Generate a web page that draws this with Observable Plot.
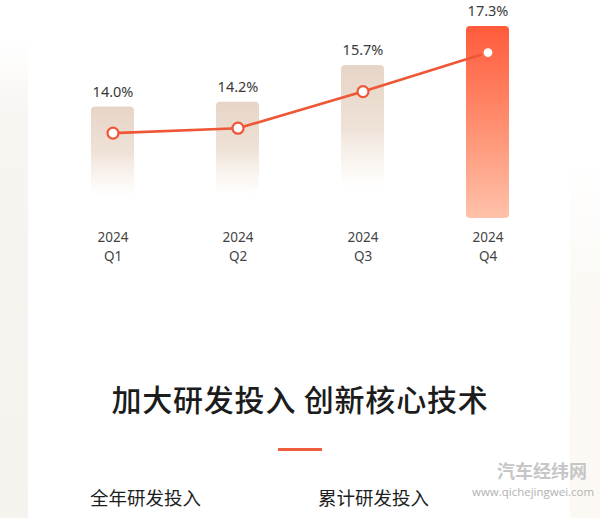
<!DOCTYPE html>
<html>
<head>
<meta charset="utf-8">
<script src="https://cdn.jsdelivr.net/npm/d3@7"></script>
<script src="https://cdn.jsdelivr.net/npm/@observablehq/plot@0.6"></script>
<style>
  html, body { margin: 0; padding: 0; background: #fff; }
  #page { position: relative; width: 600px; height: 518px; overflow: hidden; background: #fff;
    font-family: "Noto Sans CJK SC", "Noto Sans", sans-serif; }
  .strip-l { position: absolute; left: 0; top: 0; width: 28px; height: 518px;
    background: linear-gradient(to bottom, rgba(244,240,235,0) 40px, rgba(244,240,235,0.7) 120px, #f6f3ef 518px); }
  .strip-r { position: absolute; right: 0; top: 0; width: 30px; height: 518px;
    background: linear-gradient(to bottom, rgba(251,248,243,0) 160px, rgba(251,248,243,0.8) 280px, #fcf9f5 518px); }
  #chart { position: absolute; left: 0; top: 0; }
  .title { position: absolute; left: 0; width: 600px; top: 376px; text-align: center;
    font-size: 30px; font-weight: 500; color: #1c1c1c; letter-spacing: 0.8px; }
  .dash { position: absolute; left: 278px; top: 448px; width: 44px; height: 3px; background: #ef5f3e; }
  .sub { position: absolute; top: 484px; font-size: 18.5px; color: #1e1e1e; }
  .wm1 { position: absolute; left: 497px; top: 457px; font-size: 18px; font-weight: 700; color: #c6c6c6; }
  .wm2 { position: absolute; left: 472px; top: 484px; font-size: 11.5px; color: #b2b2b2; font-family: "Open Sans", sans-serif; }
</style>
</head>
<body>
<div id="page">
  <div class="strip-l"></div>
  <div class="strip-r"></div>
  <div id="chart"></div>
  <div class="title">加大研发投入 创新核心技术</div>
  <div class="dash"></div>
  <div class="sub" style="left:90px">全年研发投入</div>
  <div class="sub" style="left:318px">累计研发投入</div>
  <div class="wm1">汽车经纬网</div>
  <div class="wm2">www.qichejingwei.com</div>
</div>
<script>
const quarters = ["Q1", "Q2", "Q3", "Q4"];
const year = "2024";
const rdRatio = [14.0, 14.2, 15.7, 17.3];
const highlight = "Q4";
const yDomain = [10.5, 18];

const data = quarters.map((q, i) => ({q, v: rdRatio[i]}));
const base = yDomain[0];

const lineColor = "#ef5636";

const plot = Plot.plot({
  width: 600,
  height: 270,
  marginTop: 35,
  marginBottom: 52,
  marginLeft: 50,
  marginRight: 50,
  style: {background: "transparent", fontFamily: "'Noto Sans', 'Noto Sans CJK SC', sans-serif", overflow: "visible"},
  x: {domain: quarters, type: "band", padding: 0},
  y: {domain: yDomain, axis: null},
  marks: [
    Plot.barY(data.filter(d => d.q !== highlight), {
      x: "q", y1: d => base, y2: "v",
      insetLeft: 41, insetRight: 41, insetTop: -26,
      rx: 4, fill: "url(#gBeige)"
    }),
    Plot.barY(data.filter(d => d.q === highlight), {
      x: "q", y1: d => base, y2: "v",
      insetLeft: 41, insetRight: 41, insetTop: -26,
      rx: 4, fill: "url(#gOrange)"
    }),
    Plot.line(data, {x: "q", y: "v", stroke: lineColor, strokeWidth: 2.6}),
    Plot.dot(data, {x: "q", y: "v", r: 5.5, fill: "white", stroke: d => d.q === highlight ? "#ff6a4a" : lineColor, strokeWidth: 2.2}),
    Plot.text(data, {x: "q", y: "v", text: d => d.v.toFixed(1) + "%", dy: -41, fontSize: 14.5, fill: "#3a3a3a"}),
    Plot.axisX({tickSize: 0, tickPadding: 14, fontSize: 13.5, fill: "#444",
      tickFormat: () => year, label: null}),
    Plot.axisX({tickSize: 0, tickPadding: 33, fontSize: 13.5, fill: "#444",
      tickFormat: d => d, label: null})
  ]
});

const ns = "http://www.w3.org/2000/svg";
const defs = document.createElementNS(ns, "defs");
function grad(id, stops) {
  const g = document.createElementNS(ns, "linearGradient");
  g.setAttribute("id", id);
  g.setAttribute("x1", "0"); g.setAttribute("y1", "0");
  g.setAttribute("x2", "0"); g.setAttribute("y2", "1");
  for (const [off, col, op] of stops) {
    const s = document.createElementNS(ns, "stop");
    s.setAttribute("offset", off);
    s.setAttribute("stop-color", col);
    s.setAttribute("stop-opacity", op);
    g.appendChild(s);
  }
  defs.appendChild(g);
}
grad("gBeige", [["0", "#e7d5c7", 1], ["0.4", "#eee1d6", 1], ["0.72", "#fbf6f1", 0.6], ["0.82", "#ffffff", 0]]);
grad("gOrange", [["0", "#ff5b3b", 1], ["0.5", "#ff8d6e", 1], ["1", "#ffc2aa", 1]]);
plot.insertBefore(defs, plot.firstChild);

document.getElementById("chart").appendChild(plot);
</script>
</body>
</html>
